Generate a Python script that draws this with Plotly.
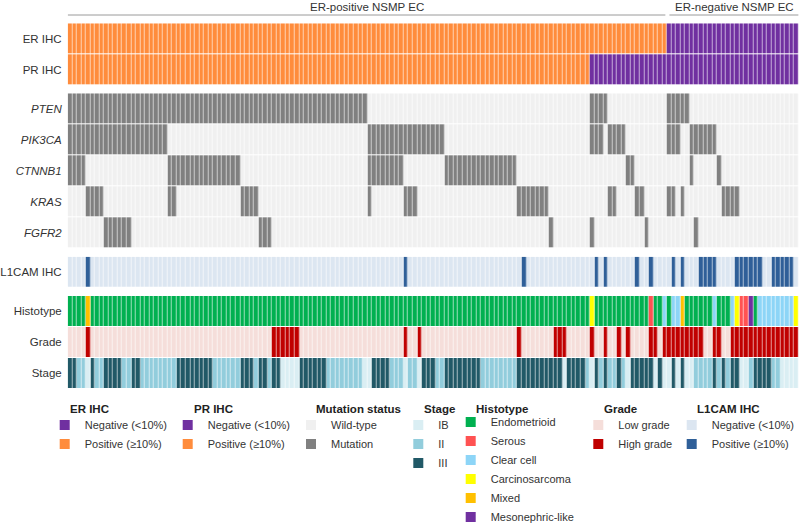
import plotly.graph_objects as go

W, H = 799, 524
N_COLS = 161
FONT = "Liberation Sans, Arial, Helvetica, sans-serif"

# ---------------- data (one character per patient, groups of 10 for readability) -------------
# ER / PR IHC: 1 = positive (>=10%), 0 = negative (<10%)
er_ihc = ("1111111111 1111111111 1111111111 1111111111 1111111111 1111111111 1111111111 "
          "1111111111 1111111111 1111111111 1111111111 1111111111 1111111111 1100000000 "
          "0000000000 0000000000 0")
pr_ihc = ("1111111111 1111111111 1111111111 1111111111 1111111111 1111111111 1111111111 "
          "1111111111 1111111111 1111111111 1111111111 1111100000 0000000000 0000000000 "
          "0000000000 0000000000 0")

# Mutation status: 1 = mutation, 0 = wild-type
genes = ["PTEN", "PIK3CA", "CTNNB1", "KRAS", "FGFR2"]
pten = ("1111111111 1111111111 1111111111 1111111111 1111111111 1111111111 1111110000 "
        "0000000000 0000000000 0000000000 0000000000 0000011110 0000000000 0011111000 "
        "0000000000 0000000000 0")
pik3ca = ("1111111111 1111111111 1100000000 0000000000 0000000000 0000000000 0000001111 "
          "1111111111 1110000000 0000000000 0000000000 0000011101 1110000000 0011100111 "
          "1110000000 0000000000 0")
ctnnb1 = ("1111000000 0000000000 0011111111 1111111100 0000000000 0000000000 0000001111 "
          "1111000000 0001111111 1111111110 0000000000 0000000000 0001100000 0000000100 "
          "0001000000 0000000000 0")
kras = ("0000111100 0000000000 0011000000 0000000011 1100000000 0000000000 0000001000 "
        "0000111000 0000000000 0000000001 1111110000 0000000001 1000011000 0011010000 "
        "0000111100 0000000000 0")
fgfr2 = ("0000000011 1111000000 0000000000 0000000000 0011100000 0000000000 0000000000 "
         "0000000000 0000000000 0000000000 0000001000 0000010000 0000000100 0000000010 "
         "0000000000 0000000000 0")

# L1CAM IHC: 1 = positive, 0 = negative
l1cam = ("0000100000 0000000000 0000000000 0000000000 0000000000 0000000000 0000000000 "
         "0000100000 0000000000 0000000000 1000000000 0000001010 0000010010 0001010001 "
         "1110000111 1110011111 0")

# Histotype: E endometrioid, S serous, L clear cell, C carcinosarcoma, X mixed, M mesonephric-like
histotype = ("EEEEXEEEEE EEEEEEEEEE EEEEEEEEEE EEEEEEEEEE EEEEEEEEEE EEEEEEEEEE EEEEEEEEEE "
             "EEEEEEEEEE EEEEEEEEEE EEEEEEEEEE EEEEEEEEEE EEEEECEEEE EEEEEEEESE ELELLXEEEE "
             "EELEEELCSS MELLLLLLLL C")
# Grade: L low, H high
grade = ("LLLLHLLLLL LLLLLLLLLL LLLLLLLLLL LLLLLLLLLL LLLLLHHHHH HLLLLLLLLL LLLLLLLLLL "
         "LLLLHLLHLL LLLLLLLLLL LLLLLLLLLH LLLLLLLHHH LLLLLHLLHL LHLHLLLLHH LHHHHHHHHH "
         "LLHHLLHHHH HHHHHHHHHH H")
# Stage: a IB, b II, c III
stage = ("ccbbacbbcc ccbbccbbbb bbbbcccccc ccbbbbbbcc cbccbccaaa accccccbbb bbbbbaaccc "
         "cbbbabbacc cbbccccccc cbbbbbbbbc ccccccccca ccccbacbcb bcbaccccca caacacaabb "
         "bbcbcbccaa bccccbbaaa a")

# ---------------- categories / colours -------------
categories = [
    ("ihc0", "Negative (<10%)", "#7030A0"),
    ("ihc1", "Positive (≥10%)", "#FF8C3C"),
    ("mut0", "Wild-type", "#F0F0F0"),
    ("mut1", "Mutation", "#808080"),
    ("l1c0", "Negative (<10%)", "#DCE6F1"),
    ("l1c1", "Positive (≥10%)", "#2F5F98"),
    ("hisE", "Endometrioid", "#00B050"),
    ("hisS", "Serous", "#FF5252"),
    ("hisL", "Clear cell", "#8DD5F7"),
    ("hisC", "Carcinosarcoma", "#FFFF00"),
    ("hisX", "Mixed", "#FFC000"),
    ("hisM", "Mesonephric-like", "#7030A0"),
    ("graL", "Low grade", "#F5DEDA"),
    ("graH", "High grade", "#C00000"),
    ("staa", "IB", "#DAEEF3"),
    ("stab", "II", "#92CDDC"),
    ("stac", "III", "#215967"),
]
code_of = {k: i for i, (k, _, _) in enumerate(categories)}
NCAT = len(categories)

colorscale = []
for i, (_, _, c) in enumerate(categories):
    colorscale.append([i / NCAT, c])
    colorscale.append([(i + 1) / NCAT, c])


def parse(s):
    v = list(s.replace(" ", ""))
    assert len(v) == N_COLS, len(v)
    return v


def codes(s, prefix):
    return [code_of[prefix + ch] for ch in parse(s)]


def labels(s, prefix):
    return [categories[code_of[prefix + ch]][1] for ch in parse(s)]


blocks = [
    ("y", ["ER IHC", "PR IHC"], [er_ihc, pr_ihc], ["ihc", "ihc"], False),
    ("y2", genes, [pten, pik3ca, ctnnb1, kras, fgfr2], ["mut"] * 5, True),
    ("y3", ["L1CAM IHC"], [l1cam], ["l1c"], False),
    ("y4", ["Histotype", "Grade", "Stage"], [histotype, grade, stage], ["his", "gra", "sta"], False),
]

fig = go.Figure()
patients = list(range(N_COLS))
for yref, rows, series, prefixes, italic in blocks:
    fig.add_trace(go.Heatmap(
        x=patients, y=rows,
        z=[codes(s, p) for s, p in zip(series, prefixes)],
        text=[labels(s, p) for s, p in zip(series, prefixes)],
        hovertemplate="%{y}: %{text}<extra></extra>",
        colorscale=colorscale, zmin=-0.5, zmax=NCAT - 0.5, showscale=False,
        xgap=0.6, ygap=1, xaxis="x", yaxis=yref,
    ))

# ---------------- legends -------------
legend_groups = [
    ("ER IHC", ["ihc0", "ihc1"]),
    ("PR IHC", ["ihc0", "ihc1"]),
    ("Mutation status", ["mut0", "mut1"]),
    ("Stage", ["staa", "stab", "stac"]),
    ("Histotype", ["hisE", "hisS", "hisL", "hisC", "hisX", "hisM"]),
    ("Grade", ["graL", "graH"]),
    ("L1CAM IHC", ["l1c0", "l1c1"]),
]
legend_title_px = [68, 191.5, 314.3, 421.7, 474.3, 602, 695.3]
legend_text_px = [84.7, 207.7, 331, 438.3, 490.7, 618.3, 711.7]
legend_top_px = [410.5, 410.5, 410.5, 410.5, 407.5, 410.5, 410.5]

for gi, (title, keys) in enumerate(legend_groups):
    lname = "legend" if gi == 0 else f"legend{gi + 1}"
    for k in keys:
        _, lab, col = categories[code_of[k]]
        fig.add_trace(go.Scatter(
            x=[None], y=[None], mode="markers", name=lab, legend=lname,
            marker=dict(symbol="square", size=10, color=col, line=dict(width=0)),
            showlegend=True, hoverinfo="skip",
        ))
    fig.update_layout({lname: dict(
        x=(legend_text_px[gi] - 40) / W, xanchor="left",
        y=1 - legend_top_px[gi] / H, yanchor="top",
        bgcolor="rgba(0,0,0,0)", borderwidth=0, tracegroupgap=0,
        font=dict(family=FONT, size=11, color="#333333"),
        itemclick=False, itemdoubleclick=False,
    )})
    fig.add_annotation(
        x=legend_title_px[gi] / W, y=1 - 409 / H, xref="paper", yref="paper",
        xanchor="left", yanchor="middle", showarrow=False,
        text=f"<b>{title}</b>", font=dict(family=FONT, size=11.5, color="#222222"),
    )

# ---------------- header brackets -------------
n_pos = sum(1 for c in parse(er_ihc) if c == "1")
groups_hdr = [
    ("ER-positive NSMP EC", -0.5, n_pos - 0.5 - 0.35),
    ("ER-negative NSMP EC", n_pos - 0.5 + 0.55, N_COLS - 0.5),
]
for txt, a, b in groups_hdr:
    fig.add_shape(type="line", xref="x", yref="paper", x0=a, x1=b,
                  y0=1 - 15 / H, y1=1 - 15 / H, line=dict(color="#9a9a9a", width=1))
    fig.add_annotation(x=(a + b) / 2, y=1 - 7.5 / H, xref="x", yref="paper",
                       text=txt, showarrow=False, xanchor="center", yanchor="middle",
                       font=dict(family=FONT, size=11.5, color="#333333"))

# ---------------- axes / layout -------------
x_dom = [67.7 / W, 798.6 / W]
fig.update_layout(
    width=W, height=H, margin=dict(l=0, r=0, t=0, b=0, autoexpand=False),
    paper_bgcolor="white", plot_bgcolor="white",
    font=dict(family=FONT, size=11.5, color="#333333"),
    xaxis=dict(domain=x_dom, range=[-0.5, N_COLS - 0.5], visible=False, showgrid=False, zeroline=False),
)
y_domains = {
    "y": [1 - 85.3 / H, 1 - 23.3 / H],
    "y2": [1 - 248 / H, 1 - 93.3 / H],
    "y3": [1 - 287.7 / H, 1 - 256.7 / H],
    "y4": [1 - 388.7 / H, 1 - 296 / H],
}
for yref, rows, _, _, italic in blocks:
    key = "yaxis" if yref == "y" else "yaxis" + yref[1:]
    fig.update_layout({key: dict(
        domain=y_domains[yref], anchor="x", autorange="reversed",
        type="category", tickvals=rows,
        ticktext=[f"<i>{r}</i>" if italic else r for r in rows],
        showgrid=False, zeroline=False, showline=False, ticks="",
        ticklabelstandoff=5,
        tickfont=dict(family=FONT, size=11.5, color="#333333"),
    )})

fig.write_html("out.html", config={"displayModeBar": False},
               post_script="document.body.style.margin='0px';")
